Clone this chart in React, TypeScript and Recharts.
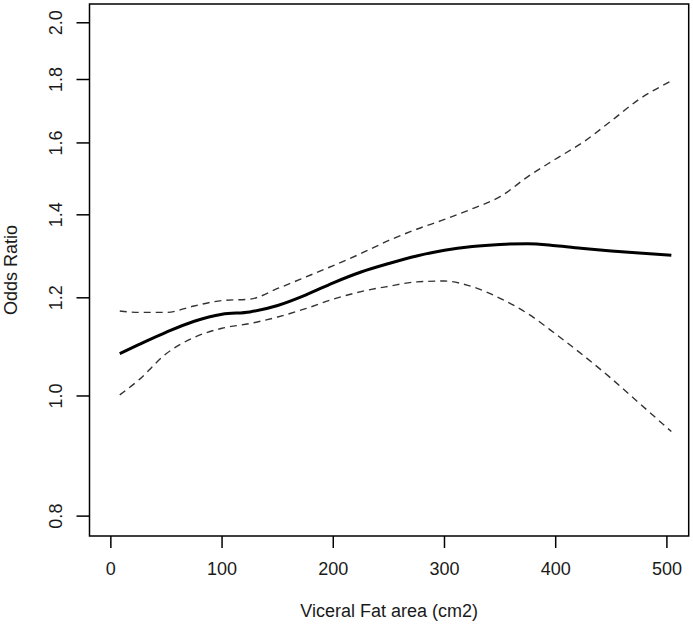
import { LineChart, Line, XAxis, YAxis, ReferenceArea, Label } from 'recharts';

// Viceral fat area (cm2)
const fatArea = [8, 25, 50, 75, 100, 125, 150, 175, 200, 225, 250, 275, 300, 325, 350, 375, 400, 425, 450, 475, 504];
// odds ratio estimate and 95% band
const oddsRatio = [1.082, 1.1, 1.126, 1.149, 1.164, 1.169, 1.183, 1.206, 1.234, 1.259, 1.279, 1.297, 1.311, 1.32, 1.325, 1.327, 1.322, 1.315, 1.309, 1.304, 1.299];
const upperCI = [1.171, 1.168, 1.168, 1.182, 1.194, 1.197, 1.221, 1.247, 1.274, 1.303, 1.335, 1.363, 1.388, 1.416, 1.448, 1.503, 1.553, 1.603, 1.667, 1.735, 1.795];
const lowerCI = [1.002, 1.03, 1.082, 1.115, 1.134, 1.144, 1.158, 1.176, 1.197, 1.214, 1.226, 1.236, 1.238, 1.225, 1.199, 1.165, 1.122, 1.078, 1.033, 0.987, 0.936];

const xTicks = [0, 100, 200, 300, 400, 500];
const yTicks = [0.8, 1.0, 1.2, 1.4, 1.6, 1.8, 2.0];

const xDomain: [number, number] = [-19.2, 519.6];
const yDomain: [number, number] = [0.771, 2.071];

const data = fatArea.map((x, i) => ({
    x,
    or: oddsRatio[i],
    hi: upperCI[i],
    lo: lowerCI[i],
}));

const FONT = '"Liberation Sans", Arial, sans-serif';
const TEXT = '#1a1a1a';

const XTick = ({ x, y, payload }: any) => (
    <text x={x} y={y + 21} textAnchor="middle" dominantBaseline="central" fontFamily={FONT} fontSize={18} fill={TEXT}>
        {payload.value}
    </text>
);

const YTick = ({ x, y, payload }: any) => {
    const cx = x - 20;
    return (
        <text x={cx} y={y} transform={`rotate(-90, ${cx}, ${y})`} textAnchor="middle" dominantBaseline="central" fontFamily={FONT} fontSize={18} fill={TEXT}>
            {Number(payload.value).toFixed(1)}
        </text>
    );
};

const XTitle = ({ viewBox }: any) => (
    <text x={viewBox.x + viewBox.width / 2} y={viewBox.y + 75} textAnchor="middle" dominantBaseline="central" fontFamily={FONT} fontSize={18} fill={TEXT}>
        Viceral Fat area (cm2)
    </text>
);

const YTitle = ({ viewBox }: any) => {
    const cx = viewBox.x + viewBox.width - 79;
    const cy = viewBox.y + viewBox.height / 2;
    return (
        <text x={cx} y={cy} transform={`rotate(-90, ${cx}, ${cy})`} textAnchor="middle" dominantBaseline="central" fontFamily={FONT} fontSize={18} fill={TEXT}>
            Odds Ratio
        </text>
    );
};

const App = () => {
    return (
        <div style={{ position: 'absolute', left: 0, top: 0, background: '#fff' }}>
            <LineChart width={693} height={628} data={data} margin={{ top: 4, right: 4.3, bottom: 32, left: 9.5 }}>
                <XAxis
                    type="number"
                    dataKey="x"
                    domain={xDomain}
                    ticks={xTicks}
                    allowDataOverflow
                    axisLine={false}
                    tickSize={12}
                    tickMargin={0}
                    tickLine={{ stroke: '#000', strokeWidth: 1.5 }}
                    tick={<XTick />}
                    height={60}
                >
                    <Label content={<XTitle />} />
                </XAxis>
                <YAxis
                    type="number"
                    scale="log"
                    domain={yDomain}
                    ticks={yTicks}
                    allowDataOverflow
                    axisLine={false}
                    tickSize={13}
                    tickMargin={0}
                    tickLine={{ stroke: '#000', strokeWidth: 1.5 }}
                    tick={<YTick />}
                    width={80}
                >
                    <Label content={<YTitle />} />
                </YAxis>
                <ReferenceArea
                    x1={xDomain[0]}
                    x2={xDomain[1]}
                    y1={yDomain[0]}
                    y2={yDomain[1]}
                    fill="none"
                    stroke="#000"
                    strokeWidth={1.5}
                    ifOverflow="visible"
                />
                <Line type="monotone" dataKey="hi" stroke="#333" strokeWidth={1.4} strokeDasharray="7 5" dot={false} isAnimationActive={false} />
                <Line type="monotone" dataKey="lo" stroke="#333" strokeWidth={1.4} strokeDasharray="7 5" dot={false} isAnimationActive={false} />
                <Line type="monotone" dataKey="or" stroke="#000" strokeWidth={3} dot={false} isAnimationActive={false} />
            </LineChart>
        </div>
    );
};

export default App;
